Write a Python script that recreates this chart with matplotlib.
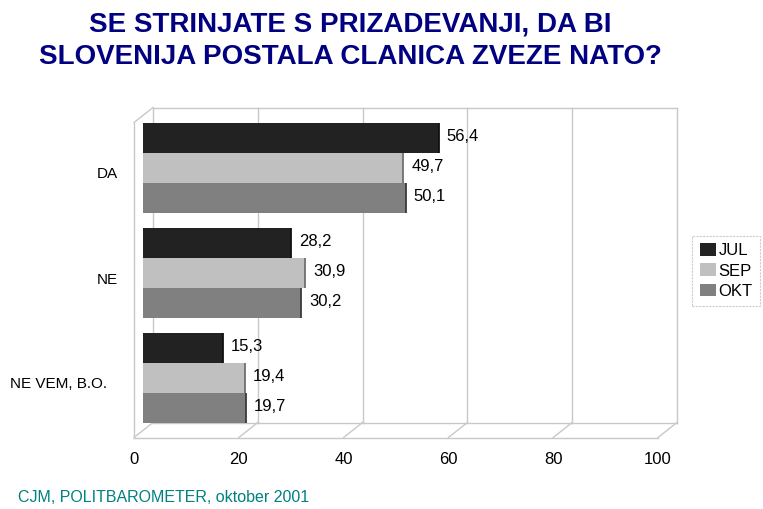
import matplotlib
matplotlib.use("Agg")
import matplotlib.pyplot as plt
import matplotlib.transforms as mtransforms
from matplotlib.patches import Patch
import numpy as np

plt.rcParams['font.family'] = ['Liberation Sans', 'DejaVu Sans']

# data
categories = ["DA", "NE", "NE VEM, B.O."]
series_names = ["JUL", "SEP", "OKT"]
jul = [56.4, 28.2, 15.3]
sep = [49.7, 30.9, 19.4]
okt = [50.1, 30.2, 19.7]
xticks = [0, 20, 40, 60, 80, 100]
title_lines = ["SE STRINJATE S PRIZADEVANJI, DA BI",
               "SLOVENIJA POSTALA CLANICA ZVEZE NATO?"]
source = "CJM, POLITBAROMETER, oktober 2001"

colors = ["#222222", "#c0c0c0", "#808080"]
side_colors = ["#111111", "#707070", "#3a3a3a"]
grid_col = "#c8c8c8"

W, H = 763, 509
fig = plt.figure(figsize=(W / 100, H / 100), dpi=100)

# axes = plane in which the bars sit (middle depth of the 3D box)
ax = fig.add_axes([143 / W, (H - 430) / H, 524 / W, 315 / H])
ax.set_xlim(0, 100)
ax.set_ylim(2.5, -0.5)
ax.axis("off")

def shift(dx, dy):
    # offset in pixels (dy positive = down)
    return ax.transData + mtransforms.ScaledTranslation(dx / 100, -dy / 100, fig.dpi_scale_trans)

back = shift(10, -7.5)
front = shift(-9, 7.5)

# back wall
for v in xticks:
    ax.plot([v, v], [-0.5, 2.5], color=grid_col, lw=1, transform=back, clip_on=False, zorder=0)
ax.plot([0, 100], [-0.5, -0.5], color=grid_col, lw=1, transform=back, clip_on=False, zorder=0)
ax.plot([0, 100], [2.5, 2.5], color=grid_col, lw=1, transform=back, clip_on=False, zorder=0)
# left side wall
ax.plot([0, 0], [-0.5, 2.5], color=grid_col, lw=1, transform=front, clip_on=False, zorder=0)
# floor
ax.plot([0, 100], [2.5, 2.5], color=grid_col, lw=1, transform=front, clip_on=False, zorder=0)
for v in xticks:
    p0 = back.transform((v, 2.5))
    p1 = front.transform((v, 2.5))
    ax.plot([p0[0], p1[0]], [p0[1], p1[1]], color=grid_col, lw=1,
            transform=None, clip_on=False, zorder=0)
p0 = back.transform((0, -0.5))
p1 = front.transform((0, -0.5))
ax.plot([p0[0], p1[0]], [p0[1], p1[1]], color=grid_col, lw=1,
        transform=None, clip_on=False, zorder=0)

# bars
h = 30 / 105
y = np.arange(len(categories))
for i, (vals, col, scol) in enumerate(zip([jul, sep, okt], colors, side_colors)):
    yy = y + (i - 1) * h
    ax.barh(yy, vals, height=h, color=col, edgecolor="none", zorder=2 + i * 0.01)
    ax.vlines(vals, yy - h / 2, yy + h / 2, color=scol, lw=1.3, zorder=3)
    for yv, v in zip(yy, vals):
        ax.annotate(f"{v:.1f}".replace(".", ","), (v, yv), xytext=(8, 1),
                    textcoords="offset pixels", ha="left", va="center",
                    fontsize=12, color="black", zorder=4)

# x tick labels
for v in xticks:
    ax.annotate(str(v), (v, 2.5), xytext=(-9, -30), textcoords="offset pixels",
                ha="center", va="center", fontsize=12, annotation_clip=False)

# category labels
label_right = [118, 118, 107]
for yc, lab, xr in zip(y, categories, label_right):
    ax.annotate(lab, (0, yc), xytext=(xr - 143, -7), textcoords="offset pixels",
                ha="right", va="center", fontsize=11, annotation_clip=False)

# legend
handles = [Patch(facecolor=c, edgecolor="none") for c in colors]
leg = fig.legend(handles, series_names, loc="center left",
                 bbox_to_anchor=(692 / W, 1 - 271 / H), frameon=True,
                 fontsize=12, handlelength=1.0, handleheight=0.8,
                 handletextpad=0.15, labelspacing=0.3, borderpad=0.45,
                 fancybox=False, borderaxespad=0)
leg.get_frame().set_edgecolor("#c0c0c0")
leg.get_frame().set_linestyle((0, (2, 1)))
leg.get_frame().set_linewidth(0.8)

# title and source
fig.text(350 / W, 1 - 25 / H, title_lines[0], ha="center", va="center",
         fontsize=20, fontweight="bold", color="#000080")
fig.text(350 / W, 1 - 57 / H, title_lines[1], ha="center", va="center",
         fontsize=20, fontweight="bold", color="#000080")
fig.text(18 / W, 1 - 497 / H, source, ha="left", va="center",
         fontsize=11.5, color="#008080")

fig.savefig("out.png", dpi=100)
